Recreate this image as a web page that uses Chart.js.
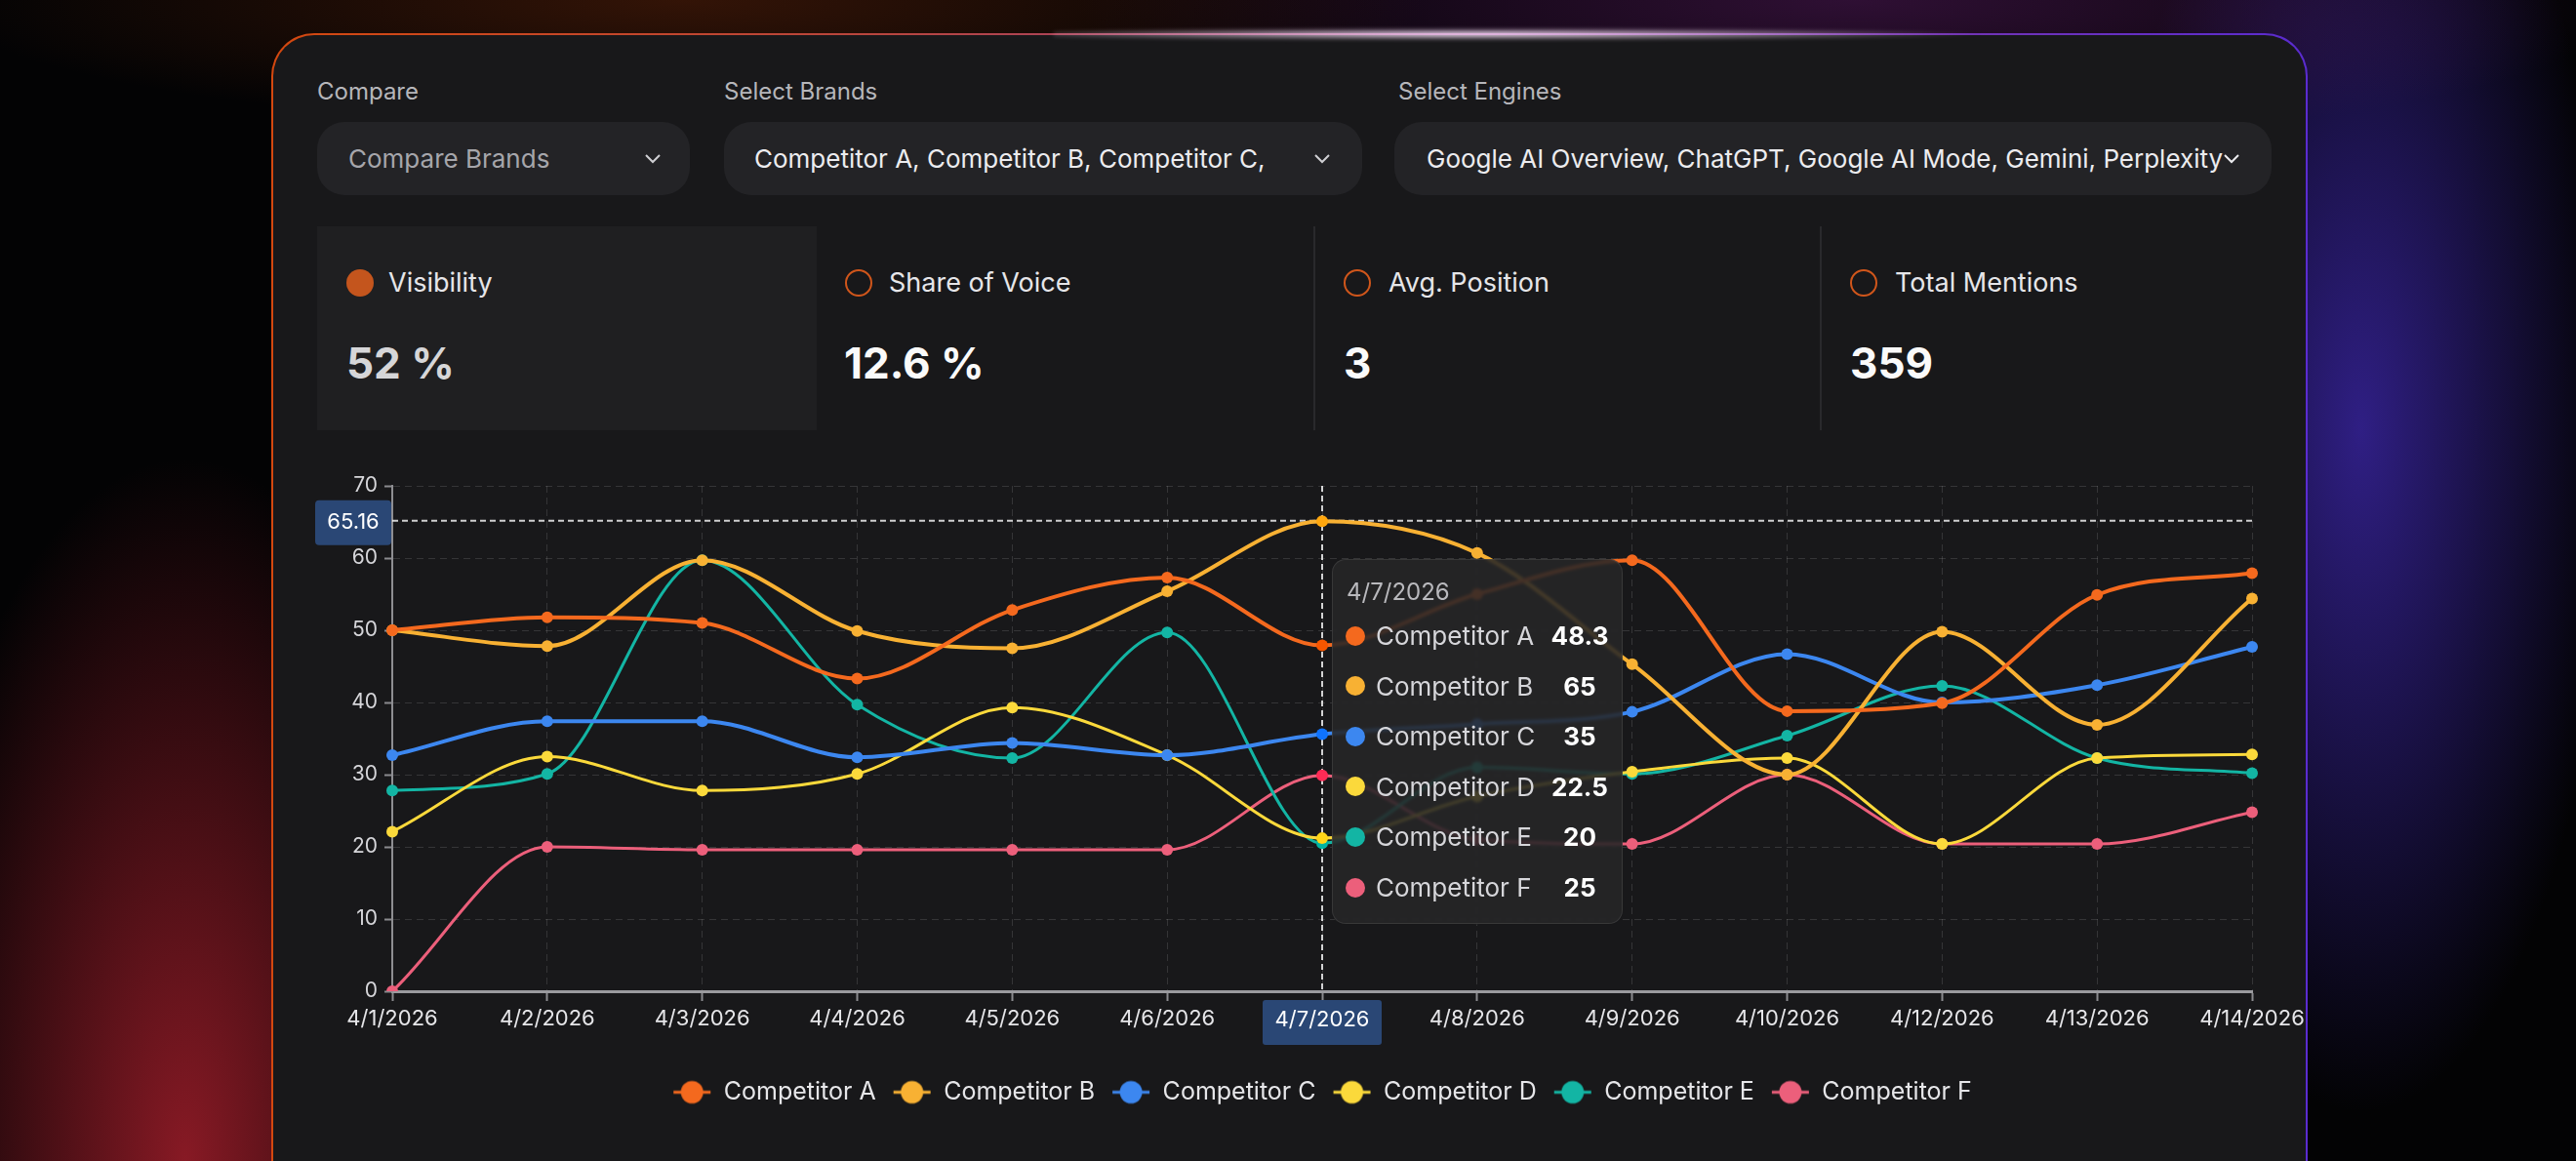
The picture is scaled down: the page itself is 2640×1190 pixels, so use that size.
<!DOCTYPE html>
<html>
<head>
<meta charset="utf-8">
<script src="https://cdn.jsdelivr.net/npm/chart.js@4.4.1/dist/chart.umd.min.js"></script>
<style>
html, body { margin: 0; padding: 0; }
body {
  width: 2640px; height: 1190px; overflow: hidden; position: relative;
  font-family: Inter, "Noto Sans", sans-serif;
  background:
    radial-gradient(ellipse 300px 720px at 190px 1190px, rgba(150, 28, 40, 0.9), rgba(150, 28, 40, 0) 100%),
    radial-gradient(ellipse 760px 130px at 700px 0px, rgba(110, 40, 10, 0.45), rgba(0, 0, 0, 0) 100%),
    radial-gradient(ellipse 800px 150px at 1900px 0px, rgba(100, 30, 110, 0.45), rgba(0, 0, 0, 0) 100%),
    radial-gradient(ellipse 260px 700px at 2420px 440px, rgba(62, 40, 175, 0.75), rgba(0, 0, 0, 0) 100%),
    #030304;
}
.card {
  position: absolute; left: 278px; top: 34px; width: 2087px; height: 1260px;
  box-sizing: border-box; border-radius: 44px; border: 2px solid transparent;
  background:
    linear-gradient(#18181a, #18181a) padding-box,
    linear-gradient(90deg, #d4480f 0%, #b8453f 30%, #8a3c9a 65%, #5a2bd0 100%) border-box;
}
.glow {
  position: absolute; left: 1080px; top: 29px; width: 960px; height: 12px;
  background: radial-gradient(ellipse at 45% 50%, rgba(255, 230, 255, 1), rgba(230, 170, 240, 0) 70%);
  filter: blur(2px);
}
.lbl { position: absolute; top: 79px; height: 30px; line-height: 30px; font-size: 24px; color: #b6b6ba; }
.dd {
  position: absolute; top: 125px; height: 75px; line-height: 75px; border-radius: 28px;
  background: #232326; font-size: 26px; box-sizing: border-box; white-space: nowrap;
}
.chev { position: absolute; top: 158px; }
.kpi-bg { position: absolute; left: 325px; top: 232px; width: 512px; height: 209px; background: #1f1f21; }
.div { position: absolute; top: 232px; width: 2px; height: 209px; background: #29292c; }
.dot { position: absolute; top: 276px; width: 28px; height: 28px; border-radius: 50%; box-sizing: border-box; }
.kname { position: absolute; top: 272px; height: 36px; line-height: 36px; font-size: 27px; color: #e6e6e9; }
.kval { position: absolute; top: 344px; height: 56px; line-height: 56px; font-size: 44px; font-weight: 700; color: #fafafa; }
#wrap { position: absolute; left: 300px; top: 470px; width: 2070px; height: 700px; }
#tip {
  position: absolute; width: 298px; box-sizing: border-box; padding: 14px 0 11px 0;
  background: rgba(38, 38, 40, 0.86); border: 1.5px solid rgba(255, 255, 255, 0.09);
  border-radius: 14px; backdrop-filter: blur(1.5px); pointer-events: none; opacity: 0;
}
.tt-title { height: 38px; line-height: 38px; padding-left: 14px; font-size: 24px; color: #b9b9bd; }
.tt-row { position: relative; height: 51.6px; line-height: 51.6px; }
.tt-dot { position: absolute; left: 13px; top: 15.8px; width: 20px; height: 20px; border-radius: 50%; }
.tt-name { position: absolute; left: 44px; font-size: 26px; color: #d6d6da; }
.tt-val { position: absolute; left: 213px; width: 80px; text-align: center; font-size: 26px; font-weight: 700; color: #fff; }
</style>
</head>
<body>
<div class="card"></div>
<div class="glow"></div>

<div class="lbl" style="left:325px">Compare</div>
<div class="lbl" style="left:742px">Select Brands</div>
<div class="lbl" style="left:1433px">Select Engines</div>

<div class="dd" style="left:325px;width:382px;padding-left:32px;color:#a6a6ab">Compare Brands</div>
<div class="dd" style="left:742px;width:654px;padding-left:31px;color:#ececef">Competitor A, Competitor B, Competitor C,</div>
<div class="dd" style="left:1429px;width:899px;padding-left:33px;color:#ececef">Google AI Overview, ChatGPT, Google AI Mode, Gemini, Perplexity</div>
<svg class="chev" style="left:661px" width="16" height="10"><polyline points="1,1 8,8 15,1" fill="none" stroke="#cfcfd3" stroke-width="2"/></svg>
<svg class="chev" style="left:1347px" width="16" height="10"><polyline points="1,1 8,8 15,1" fill="none" stroke="#cfcfd3" stroke-width="2"/></svg>
<svg class="chev" style="left:2279px" width="16" height="10"><polyline points="1,1 8,8 15,1" fill="none" stroke="#ececef" stroke-width="2"/></svg>

<div class="kpi-bg"></div>
<div class="div" style="left:1346px"></div>
<div class="div" style="left:1865px"></div>

<div class="dot" style="left:355px;background:#c4551d"></div>
<div class="kname" style="left:398px">Visibility</div>
<div class="kval" style="left:355px;color:#d6d6d8">52 %</div>

<div class="dot" style="left:866px;border:2.5px solid #d0561b"></div>
<div class="kname" style="left:911px">Share of Voice</div>
<div class="kval" style="left:865px">12.6 %</div>

<div class="dot" style="left:1377px;border:2.5px solid #d0561b"></div>
<div class="kname" style="left:1423px">Avg. Position</div>
<div class="kval" style="left:1377px">3</div>

<div class="dot" style="left:1896px;border:2.5px solid #d0561b"></div>
<div class="kname" style="left:1942px">Total Mentions</div>
<div class="kval" style="left:1896px">359</div>

<div id="wrap">
  <canvas id="trend" width="2070" height="700"></canvas>
  <div id="tip"></div>
</div>

<script>
// dates on the x axis (4/11 is not in the data)
const labels = ['4/1/2026', '4/2/2026', '4/3/2026', '4/4/2026', '4/5/2026', '4/6/2026', '4/7/2026',
  '4/8/2026', '4/9/2026', '4/10/2026', '4/12/2026', '4/13/2026', '4/14/2026'];

const seriesNames = ['Competitor A', 'Competitor B', 'Competitor C', 'Competitor D', 'Competitor E', 'Competitor F'];
const seriesColors = ['#f4691e', '#f8b133', '#3c87f0', '#fbd93b', '#13b5a4', '#ec5f7b'];
const lineWidths = [4, 4, 4, 3, 3, 3];

const competitorA = [50.0, 51.8, 51.0, 43.3, 52.8, 57.3, 47.9, 55.0, 59.7, 38.8, 39.9, 54.9, 57.9];
const competitorB = [50.0, 47.8, 59.7, 49.9, 47.5, 55.4, 65.1, 60.7, 45.3, 30.0, 49.8, 36.9, 54.4];
const competitorC = [32.7, 37.4, 37.4, 32.4, 34.4, 32.7, 35.6, 37.0, 38.7, 46.7, 40.0, 42.4, 47.7];
const competitorD = [22.1, 32.5, 27.8, 30.1, 39.3, 32.7, 21.2, 27.0, 30.4, 32.3, 20.4, 32.3, 32.8];
const competitorE = [27.8, 30.1, 59.7, 39.7, 32.3, 49.7, 20.5, 31.0, 30.1, 35.4, 42.3, 32.3, 30.2];
const competitorF = [0.0, 20.0, 19.6, 19.6, 19.6, 19.6, 29.9, 21.0, 20.4, 30.0, 20.4, 20.4, 24.8];
const allSeries = [competitorA, competitorB, competitorC, competitorD, competitorE, competitorF];

// y axis
const yMin = 0;
const yMax = 70;
const yStep = 10;

// hover state shown in the screenshot
const hoverIndex = 6;
const cursorValue = 65.16;
const tooltipValues = ['48.3', '65', '35', '22.5', '20', '25'];

// legend icon: short line with a dot on it
function legendIcon(color) {
  const c = document.createElement('canvas');
  c.width = 40; c.height = 26;
  const g = c.getContext('2d');
  g.strokeStyle = color; g.lineWidth = 3;
  g.beginPath(); g.moveTo(1, 13); g.lineTo(39, 13); g.stroke();
  g.fillStyle = color;
  g.beginPath(); g.arc(20, 13, 11.5, 0, Math.PI * 2); g.fill();
  return c;
}
const legendIcons = seriesColors.map(legendIcon);

function roundBox(ctx, x, y, w, h, r) {
  ctx.beginPath();
  ctx.moveTo(x + r, y);
  ctx.arcTo(x + w, y, x + w, y + h, r);
  ctx.arcTo(x + w, y + h, x, y + h, r);
  ctx.arcTo(x, y + h, x, y, r);
  ctx.arcTo(x, y, x + w, y, r);
  ctx.closePath();
}

const crosshair = {
  id: 'crosshair',
  beforeDatasetsDraw(chart) {
    const { ctx, chartArea: a, scales: { x, y } } = chart;
    const px = x.getPixelForValue(hoverIndex);
    const py = y.getPixelForValue(cursorValue);
    ctx.save();
    ctx.strokeStyle = 'rgba(255,255,255,0.8)';
    ctx.lineWidth = 2;
    ctx.setLineDash([6, 4]);
    ctx.beginPath();
    ctx.moveTo(px, a.top); ctx.lineTo(px, a.bottom);
    ctx.moveTo(a.left, py); ctx.lineTo(a.right, py);
    ctx.stroke();
    ctx.restore();
  },
  afterDraw(chart) {
    const { ctx, chartArea: a, scales: { x, y } } = chart;
    const px = x.getPixelForValue(hoverIndex);
    const py = y.getPixelForValue(cursorValue);
    ctx.save();
    ctx.fillStyle = '#2a4775';
    roundBox(ctx, a.left - 79, py - 21, 78, 46, 4);
    ctx.fill();
    roundBox(ctx, px - 61, a.bottom + 9, 122, 46, 3);
    ctx.fill();
    ctx.fillStyle = '#ffffff';
    ctx.textAlign = 'center';
    ctx.textBaseline = 'middle';
    ctx.font = '22px Inter';
    ctx.fillText(cursorValue.toFixed(2), a.left - 40, py + 2);
    ctx.fillText(labels[hoverIndex], px, a.bottom + 29);
    ctx.restore();
  }
};

function externalTooltip(context) {
  const { tooltip } = context;
  const el = document.getElementById('tip');
  if (tooltip.opacity === 0) { el.style.opacity = 0; return; }
  let html = '<div class="tt-title">' + tooltip.title[0] + '</div>';
  tooltip.dataPoints.forEach(dp => {
    const i = dp.datasetIndex;
    html += '<div class="tt-row"><span class="tt-dot" style="background:' + seriesColors[i] + '"></span>' +
      '<span class="tt-name">' + dp.dataset.label + '</span>' +
      '<span class="tt-val">' + tooltipValues[i] + '</span></div>';
  });
  el.innerHTML = html;
  el.style.opacity = 1;
  el.style.left = (tooltip.caretX + 10) + 'px';
  el.style.top = (tooltip.caretY - el.offsetHeight / 2 + 16) + 'px';
}

const datasets = allSeries.map((data, i) => ({
  label: seriesNames[i],
  data: data,
  borderColor: seriesColors[i],
  backgroundColor: seriesColors[i],
  borderWidth: lineWidths[i],
  pointRadius: 6,
  pointHoverRadius: 6,
  pointBorderWidth: 0,
  pointHoverBorderWidth: 0,
  cubicInterpolationMode: 'monotone',
  fill: false
}));

const chart = new Chart(document.getElementById('trend'), {
  type: 'line',
  data: { labels: labels, datasets: datasets },
  plugins: [crosshair],
  options: {
    responsive: false,
    animation: false,
    layout: { padding: { top: 28, right: 62, left: 0, bottom: 28 } },
    interaction: { mode: 'index', intersect: false },
    scales: {
      x: {
        ticks: { color: '#e6e6e9', font: { family: 'Inter', size: 22 }, padding: 5, maxRotation: 0, autoSkip: false },
        grid: { color: 'rgba(255,255,255,0.13)', tickColor: '#8a8a8e', tickLength: 10, tickWidth: 2 },
        border: { display: true, color: '#9a9a9e', width: 3, dash: [7, 5] },
        afterFit: s => { s.height = 74; }
      },
      y: {
        min: yMin, max: yMax,
        ticks: { stepSize: yStep, color: '#d6d6da', font: { family: 'Inter', size: 21 }, padding: 7 },
        grid: { color: 'rgba(255,255,255,0.13)', tickColor: '#8a8a8e', tickLength: 8, tickWidth: 2 },
        border: { display: true, color: '#8e8e92', width: 2, dash: [7, 5] },
        afterFit: s => { s.width = 102; }
      }
    },
    plugins: {
      legend: {
        position: 'bottom',
        fullSize: false,
        labels: {
          usePointStyle: true,
          pointStyleWidth: 40,
          padding: 17,
          color: '#e6e6e9',
          font: { family: 'Inter', size: 25 },
          generateLabels: c => c.data.datasets.map((ds, i) => ({
            text: ds.label,
            pointStyle: legendIcons[i],
            fillStyle: ds.borderColor,
            strokeStyle: ds.borderColor,
            fontColor: '#e6e6e9',
            lineWidth: 0,
            hidden: false,
            datasetIndex: i
          }))
        }
      },
      tooltip: { enabled: false, external: externalTooltip, position: 'average' }
    }
  }
});

const active = chart.data.datasets.map((d, i) => ({ datasetIndex: i, index: hoverIndex }));
chart.setActiveElements(active);
chart.tooltip.setActiveElements(active, {
  x: chart.scales.x.getPixelForValue(hoverIndex),
  y: chart.scales.y.getPixelForValue(cursorValue)
});
chart.update();
</script>
</body>
</html>
